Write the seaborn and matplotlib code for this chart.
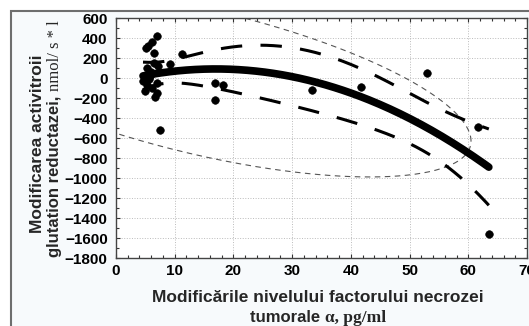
import numpy as np
import pandas as pd
import matplotlib
matplotlib.use('Agg')
import matplotlib.pyplot as plt
from matplotlib.patches import Rectangle
from matplotlib.ticker import MultipleLocator
import seaborn as sns

# ------------------------------------------ DATA ------------------------------------------------------------#
tnf = [7.0, 6.1, 5.5, 5.1, 6.4, 6.6, 7.5, 6.5, 7.2, 5.2, 6.0, 5.0, 5.6, 4.6, 6.9,
       5.3, 6.2, 5.0, 7.0, 5.8, 9.2, 11.2, 16.9, 18.2, 16.9, 33.3, 41.7, 53.0, 61.7, 63.5]
gr = [420, 363, 323, 303, 247, -187, -520, 150, 120, 100, 60, 20, -10, -30, -50,
      -70, -100, -130, -150, 20, 137, 237, -53, -70, -220, -118, -90, 50, -490, -1560]
x_ticks = [0, 10, 20, 30, 40, 50, 60, 70]
y_ticks = [-1800, -1600, -1400, -1200, -1000, -800, -600, -400, -200, 0, 200, 400, 600]

df = pd.DataFrame({'tnf': tnf, 'gr': gr})

# ------------------------------------------ FIT (quadratic, 95% CI) -----------------------------------------#
X = np.vander(df['tnf'], 3)
coef = np.linalg.lstsq(X, df['gr'], rcond=None)[0]
n = len(df)
resid = df['gr'].values - X @ coef
s2 = resid @ resid / (n - 3)
cov_b = s2 * np.linalg.inv(X.T @ X)
xx = np.linspace(df['tnf'].min(), df['tnf'].max(), 200)
XX = np.vander(xx, 3)
yy = XX @ coef
se = np.sqrt(np.einsum('ij,jk,ik->i', XX, cov_b, XX))
t_val = 2.052  # t(0.975, n-3)

# 95% prediction ellipse of the data (F-based, n=30)
mu = df[['tnf', 'gr']].mean().values
L = np.linalg.cholesky(np.cov(df['tnf'], df['gr']))
k = 2 * (n - 1) / (n - 2) * 3.340  # F(0.95; 2, 28)
th = np.linspace(0, 2 * np.pi, 400)
ell = mu[:, None] + np.sqrt(k) * L @ np.vstack([np.cos(th), np.sin(th)])

# ------------------------------------------ PLOT ------------------------------------------------------------#
sns.set_style('ticks')
plt.rcParams['font.family'] = ['Liberation Sans', 'DejaVu Sans']
plt.rcParams['font.weight'] = 'bold'

fig = plt.figure(figsize=(5.29, 3.26), dpi=100)
fig.add_artist(Rectangle((11 / 529, -0.1), 1.2, 1.1 - 11 / 326, transform=fig.transFigure,
                         facecolor='#f7fafc', edgecolor='#6e6e6e', lw=1.5, zorder=-10))
ax = fig.add_axes([116 / 529, 1 - 258 / 326, (527 - 116) / 529, (258 - 18) / 326])
ax.set_facecolor('white')

ax.plot(ell[0], ell[1], color='#555555', lw=0.8, ls=(0, (5, 4)), zorder=2)
ax.plot(xx, yy + t_val * se, color='black', lw=2.2, ls=(0, (7, 6)), zorder=3)
ax.plot(xx, yy - t_val * se, color='black', lw=2.2, ls=(0, (7, 6)), zorder=3)
sns.lineplot(x=xx, y=yy, ax=ax, color='black', lw=5.5, zorder=4)
sns.scatterplot(data=df, x='tnf', y='gr', ax=ax, color='black', s=30, edgecolor='black', zorder=5)

ax.set_xlim(0, 70)
ax.set_ylim(-1800, 600)
ax.set_xticks(x_ticks)
ax.set_yticks(y_ticks)
ax.xaxis.set_minor_locator(MultipleLocator(2))
ax.yaxis.set_minor_locator(MultipleLocator(100))
ax.tick_params(which='both', direction='in', top=True, right=True, labelsize=11, width=0.8, colors='#333333',
               labelcolor='black')
ax.tick_params(which='major', length=3)
ax.tick_params(which='minor', length=2)
ax.tick_params(axis='y', pad=6)
ax.tick_params(axis='x', pad=4)
ax.grid(True, which='major', color='#bbbbbb', ls=':', lw=0.7)
for sp in ax.spines.values():
    sp.set_color('#444444')
    sp.set_linewidth(1)
ax.set_xlabel('')
ax.set_ylabel('')

# axis titles
fig.text(318 / 529, 1 - 298 / 326, 'Modificările nivelului factorului necrozei', ha='center', va='center',
         fontsize=12.5, fontweight='bold')
t1 = fig.text(250 / 529, 1 - 318 / 326, 'tumorale ', ha='left', va='center', fontsize=12, fontweight='bold')
ax.annotate('α, pg/ml', xy=(1, 0), xycoords=t1, ha='left', va='bottom', fontsize=12.5,
            fontweight='bold', family='Liberation Serif', annotation_clip=False)

fig.text(38 / 529, 1 - 144 / 326, 'Modificarea activitroii', rotation=90, ha='center', va='center',
         fontsize=12.5, fontweight='bold')
t2 = fig.text(55 / 529, 1 - 257 / 326, 'glutation reductazei, ', rotation=90, ha='center', va='bottom',
              fontsize=12, fontweight='bold')
ax.annotate('nmol/ s * l', xy=(0.5, 1), xycoords=t2, ha='center', va='bottom', rotation=90, fontsize=12,
            fontweight='normal', family='Liberation Serif', annotation_clip=False)

plt.savefig('out.png', dpi=100)
